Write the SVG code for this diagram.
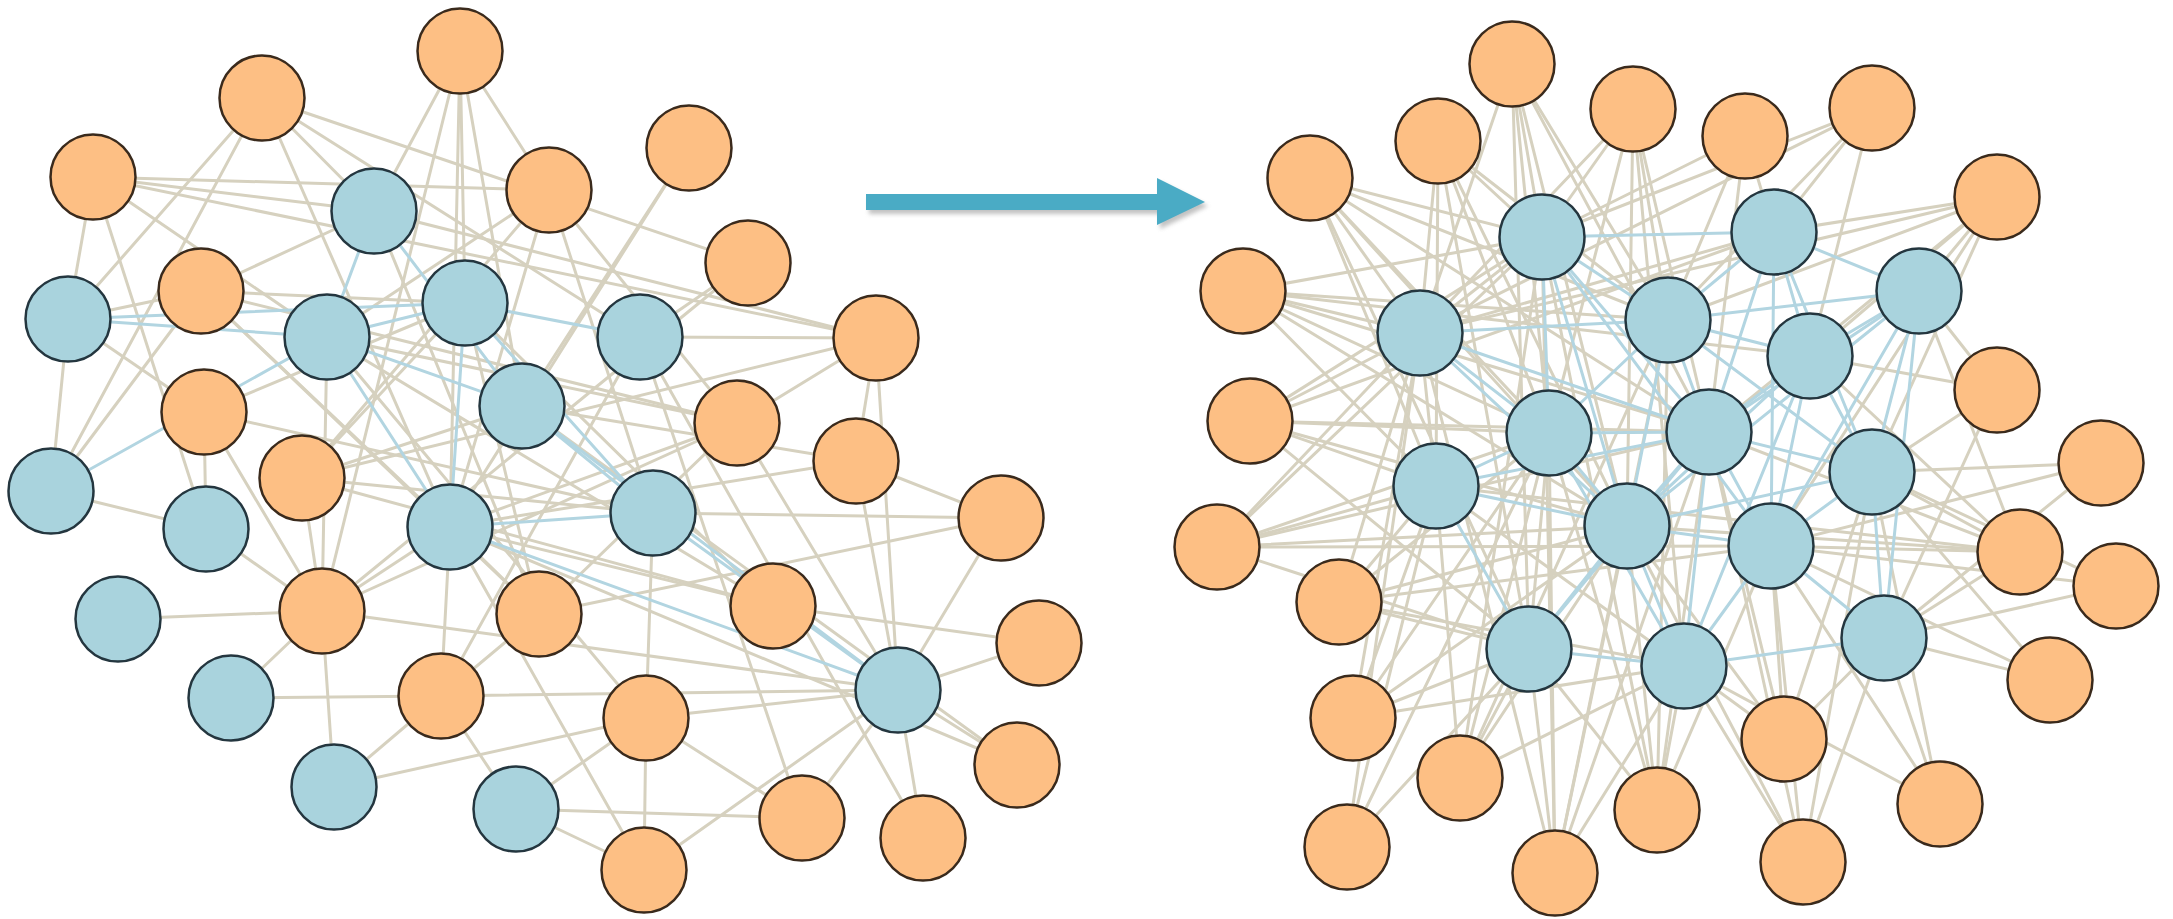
<svg xmlns="http://www.w3.org/2000/svg" width="2173" height="919" viewBox="0 0 2173 919">
<style>
.e line{stroke:#D6D1BF;stroke-width:3;stroke-linecap:round}
.eb line{stroke:#B2D5E1;stroke-width:3;stroke-linecap:round}
.o{fill:#FDBF84;stroke:#3A2A1C;stroke-width:2.5}
.b{fill:#A9D3DD;stroke:#24363F;stroke-width:2.5}
</style>
<defs>
<filter id="sh" x="-10%" y="-50%" width="120%" height="200%"><feGaussianBlur stdDeviation="2"/></filter>
<circle id="n" r="42.5"/>
</defs>
<rect width="2173" height="919" fill="#ffffff"/>
<g id="connectors">
<g class="e">
<line x1="460" y1="51" x2="374" y2="211"/><line x1="460" y1="51" x2="465" y2="303"/><line x1="460" y1="51" x2="450" y2="527"/><line x1="460" y1="51" x2="549" y2="190"/><line x1="460" y1="51" x2="522" y2="406"/>
<line x1="262" y1="98" x2="68" y2="319"/><line x1="262" y1="98" x2="51" y2="491"/><line x1="262" y1="98" x2="374" y2="211"/><line x1="262" y1="98" x2="450" y2="527"/><line x1="262" y1="98" x2="748" y2="263"/><line x1="262" y1="98" x2="640" y2="337"/>
<line x1="93" y1="177" x2="68" y2="319"/><line x1="93" y1="177" x2="374" y2="211"/><line x1="93" y1="177" x2="876" y2="338"/><line x1="93" y1="177" x2="206" y2="529"/><line x1="93" y1="177" x2="327" y2="337"/><line x1="93" y1="177" x2="549" y2="190"/>
<line x1="549" y1="190" x2="327" y2="337"/><line x1="549" y1="190" x2="653" y2="513"/><line x1="549" y1="190" x2="737" y2="423"/><line x1="549" y1="190" x2="450" y2="527"/><line x1="549" y1="190" x2="302" y2="478"/>
<line x1="689" y1="148" x2="522" y2="406"/><line x1="689" y1="148" x2="450" y2="527"/>
<line x1="748" y1="263" x2="640" y2="337"/><line x1="748" y1="263" x2="322" y2="611"/>
<line x1="201" y1="291" x2="68" y2="319"/><line x1="201" y1="291" x2="374" y2="211"/><line x1="201" y1="291" x2="465" y2="303"/><line x1="201" y1="291" x2="737" y2="423"/><line x1="201" y1="291" x2="51" y2="491"/><line x1="201" y1="291" x2="450" y2="527"/><line x1="201" y1="291" x2="539" y2="614"/>
<line x1="876" y1="338" x2="640" y2="337"/><line x1="876" y1="338" x2="737" y2="423"/><line x1="876" y1="338" x2="856" y2="461"/><line x1="876" y1="338" x2="898" y2="690"/><line x1="876" y1="338" x2="374" y2="211"/><line x1="876" y1="338" x2="302" y2="478"/>
<line x1="204" y1="412" x2="68" y2="319"/><line x1="204" y1="412" x2="465" y2="303"/><line x1="204" y1="412" x2="322" y2="611"/><line x1="204" y1="412" x2="653" y2="513"/><line x1="204" y1="412" x2="206" y2="529"/>
<line x1="737" y1="423" x2="450" y2="527"/><line x1="737" y1="423" x2="898" y2="690"/><line x1="737" y1="423" x2="327" y2="337"/><line x1="737" y1="423" x2="539" y2="614"/><line x1="737" y1="423" x2="322" y2="611"/>
<line x1="302" y1="478" x2="465" y2="303"/><line x1="302" y1="478" x2="522" y2="406"/><line x1="302" y1="478" x2="322" y2="611"/><line x1="302" y1="478" x2="653" y2="513"/><line x1="302" y1="478" x2="773" y2="606"/>
<line x1="856" y1="461" x2="898" y2="690"/><line x1="856" y1="461" x2="1001" y2="518"/><line x1="856" y1="461" x2="450" y2="527"/><line x1="856" y1="461" x2="522" y2="406"/>
<line x1="1001" y1="518" x2="653" y2="513"/><line x1="1001" y1="518" x2="898" y2="690"/>
<line x1="322" y1="611" x2="118" y2="619"/><line x1="322" y1="611" x2="231" y2="698"/><line x1="322" y1="611" x2="334" y2="787"/><line x1="322" y1="611" x2="206" y2="529"/><line x1="322" y1="611" x2="327" y2="337"/><line x1="322" y1="611" x2="450" y2="527"/><line x1="322" y1="611" x2="460" y2="51"/><line x1="322" y1="611" x2="898" y2="690"/>
<line x1="539" y1="614" x2="450" y2="527"/><line x1="539" y1="614" x2="441" y2="696"/><line x1="539" y1="614" x2="465" y2="303"/><line x1="539" y1="614" x2="374" y2="211"/><line x1="539" y1="614" x2="1001" y2="518"/>
<line x1="773" y1="606" x2="1039" y2="643"/><line x1="773" y1="606" x2="450" y2="527"/><line x1="773" y1="606" x2="465" y2="303"/><line x1="773" y1="606" x2="327" y2="337"/>
<line x1="1039" y1="643" x2="898" y2="690"/>
<line x1="441" y1="696" x2="231" y2="698"/><line x1="441" y1="696" x2="334" y2="787"/><line x1="441" y1="696" x2="516" y2="809"/><line x1="441" y1="696" x2="898" y2="690"/><line x1="441" y1="696" x2="640" y2="337"/><line x1="441" y1="696" x2="450" y2="527"/>
<line x1="646" y1="718" x2="898" y2="690"/><line x1="646" y1="718" x2="653" y2="513"/><line x1="646" y1="718" x2="644" y2="870"/><line x1="646" y1="718" x2="802" y2="818"/><line x1="646" y1="718" x2="334" y2="787"/><line x1="646" y1="718" x2="516" y2="809"/><line x1="646" y1="718" x2="327" y2="337"/>
<line x1="1017" y1="765" x2="898" y2="690"/><line x1="1017" y1="765" x2="522" y2="406"/><line x1="1017" y1="765" x2="450" y2="527"/>
<line x1="802" y1="818" x2="898" y2="690"/><line x1="802" y1="818" x2="516" y2="809"/><line x1="802" y1="818" x2="640" y2="337"/>
<line x1="923" y1="838" x2="898" y2="690"/><line x1="923" y1="838" x2="640" y2="337"/>
<line x1="644" y1="870" x2="898" y2="690"/><line x1="644" y1="870" x2="516" y2="809"/><line x1="644" y1="870" x2="450" y2="527"/>
<line x1="51" y1="491" x2="206" y2="529"/><line x1="51" y1="491" x2="68" y2="319"/>
<line x1="1512" y1="64" x2="1542" y2="237"/><line x1="1512" y1="64" x2="1668" y2="320"/><line x1="1512" y1="64" x2="1549" y2="433"/><line x1="1512" y1="64" x2="1627" y2="526"/><line x1="1512" y1="64" x2="1529" y2="649"/><line x1="1512" y1="64" x2="1709" y2="432"/><line x1="1512" y1="64" x2="1420" y2="333"/>
<line x1="1438" y1="141" x2="1542" y2="237"/><line x1="1438" y1="141" x2="1420" y2="333"/><line x1="1438" y1="141" x2="1549" y2="433"/><line x1="1438" y1="141" x2="1436" y2="486"/><line x1="1438" y1="141" x2="1529" y2="649"/><line x1="1438" y1="141" x2="1627" y2="526"/><line x1="1438" y1="141" x2="1668" y2="320"/>
<line x1="1633" y1="109" x2="1542" y2="237"/><line x1="1633" y1="109" x2="1668" y2="320"/><line x1="1633" y1="109" x2="1549" y2="433"/><line x1="1633" y1="109" x2="1420" y2="333"/><line x1="1633" y1="109" x2="1709" y2="432"/><line x1="1633" y1="109" x2="1627" y2="526"/><line x1="1633" y1="109" x2="1684" y2="666"/>
<line x1="1745" y1="136" x2="1774" y2="232"/><line x1="1745" y1="136" x2="1668" y2="320"/><line x1="1745" y1="136" x2="1709" y2="432"/><line x1="1745" y1="136" x2="1542" y2="237"/>
<line x1="1872" y1="108" x2="1774" y2="232"/><line x1="1872" y1="108" x2="1668" y2="320"/><line x1="1872" y1="108" x2="1542" y2="237"/><line x1="1872" y1="108" x2="1420" y2="333"/><line x1="1872" y1="108" x2="1810" y2="356"/>
<line x1="1310" y1="178" x2="1420" y2="333"/><line x1="1310" y1="178" x2="1542" y2="237"/><line x1="1310" y1="178" x2="1549" y2="433"/><line x1="1310" y1="178" x2="1436" y2="486"/><line x1="1310" y1="178" x2="1668" y2="320"/><line x1="1310" y1="178" x2="1627" y2="526"/><line x1="1310" y1="178" x2="1529" y2="649"/><line x1="1310" y1="178" x2="1709" y2="432"/>
<line x1="1997" y1="197" x2="1919" y2="291"/><line x1="1997" y1="197" x2="1774" y2="232"/><line x1="1997" y1="197" x2="1668" y2="320"/><line x1="1997" y1="197" x2="1810" y2="356"/><line x1="1997" y1="197" x2="1709" y2="432"/><line x1="1997" y1="197" x2="1872" y2="472"/><line x1="1997" y1="197" x2="1420" y2="333"/><line x1="1997" y1="197" x2="1771" y2="546"/>
<line x1="1243" y1="291" x2="1420" y2="333"/><line x1="1243" y1="291" x2="1542" y2="237"/><line x1="1243" y1="291" x2="1549" y2="433"/><line x1="1243" y1="291" x2="1436" y2="486"/><line x1="1243" y1="291" x2="1668" y2="320"/><line x1="1243" y1="291" x2="1709" y2="432"/><line x1="1243" y1="291" x2="1627" y2="526"/><line x1="1243" y1="291" x2="1810" y2="356"/>
<line x1="1997" y1="390" x2="1919" y2="291"/><line x1="1997" y1="390" x2="1872" y2="472"/><line x1="1997" y1="390" x2="1884" y2="638"/><line x1="1997" y1="390" x2="1810" y2="356"/>
<line x1="1250" y1="421" x2="1420" y2="333"/><line x1="1250" y1="421" x2="1436" y2="486"/><line x1="1250" y1="421" x2="1549" y2="433"/><line x1="1250" y1="421" x2="1542" y2="237"/><line x1="1250" y1="421" x2="1627" y2="526"/><line x1="1250" y1="421" x2="1709" y2="432"/><line x1="1250" y1="421" x2="1774" y2="232"/><line x1="1250" y1="421" x2="1529" y2="649"/>
<line x1="2101" y1="463" x2="1872" y2="472"/><line x1="2101" y1="463" x2="1771" y2="546"/><line x1="2101" y1="463" x2="1884" y2="638"/>
<line x1="1217" y1="547" x2="1436" y2="486"/><line x1="1217" y1="547" x2="1420" y2="333"/><line x1="1217" y1="547" x2="1549" y2="433"/><line x1="1217" y1="547" x2="1627" y2="526"/><line x1="1217" y1="547" x2="1529" y2="649"/><line x1="1217" y1="547" x2="1771" y2="546"/><line x1="1217" y1="547" x2="1709" y2="432"/><line x1="1217" y1="547" x2="1542" y2="237"/>
<line x1="2020" y1="552" x2="1872" y2="472"/><line x1="2020" y1="552" x2="1771" y2="546"/><line x1="2020" y1="552" x2="1884" y2="638"/><line x1="2020" y1="552" x2="1810" y2="356"/><line x1="2020" y1="552" x2="1919" y2="291"/><line x1="2020" y1="552" x2="1709" y2="432"/><line x1="2020" y1="552" x2="1627" y2="526"/><line x1="2020" y1="552" x2="1436" y2="486"/>
<line x1="2116" y1="586" x2="1884" y2="638"/><line x1="2116" y1="586" x2="1771" y2="546"/><line x1="2116" y1="586" x2="1872" y2="472"/>
<line x1="1339" y1="602" x2="1436" y2="486"/><line x1="1339" y1="602" x2="1529" y2="649"/><line x1="1339" y1="602" x2="1549" y2="433"/><line x1="1339" y1="602" x2="1627" y2="526"/><line x1="1339" y1="602" x2="1684" y2="666"/><line x1="1339" y1="602" x2="1771" y2="546"/><line x1="1339" y1="602" x2="1420" y2="333"/>
<line x1="2050" y1="680" x2="1884" y2="638"/><line x1="2050" y1="680" x2="1872" y2="472"/><line x1="2050" y1="680" x2="1771" y2="546"/>
<line x1="1353" y1="718" x2="1529" y2="649"/><line x1="1353" y1="718" x2="1436" y2="486"/><line x1="1353" y1="718" x2="1549" y2="433"/><line x1="1353" y1="718" x2="1627" y2="526"/><line x1="1353" y1="718" x2="1684" y2="666"/><line x1="1353" y1="718" x2="1420" y2="333"/>
<line x1="1784" y1="739" x2="1884" y2="638"/><line x1="1784" y1="739" x2="1684" y2="666"/><line x1="1784" y1="739" x2="1771" y2="546"/><line x1="1784" y1="739" x2="1627" y2="526"/><line x1="1784" y1="739" x2="1872" y2="472"/><line x1="1784" y1="739" x2="1709" y2="432"/>
<line x1="1460" y1="778" x2="1529" y2="649"/><line x1="1460" y1="778" x2="1549" y2="433"/><line x1="1460" y1="778" x2="1627" y2="526"/><line x1="1460" y1="778" x2="1684" y2="666"/><line x1="1460" y1="778" x2="1436" y2="486"/><line x1="1460" y1="778" x2="1542" y2="237"/><line x1="1460" y1="778" x2="1668" y2="320"/>
<line x1="1657" y1="810" x2="1684" y2="666"/><line x1="1657" y1="810" x2="1529" y2="649"/><line x1="1657" y1="810" x2="1627" y2="526"/><line x1="1657" y1="810" x2="1549" y2="433"/><line x1="1657" y1="810" x2="1709" y2="432"/><line x1="1657" y1="810" x2="1542" y2="237"/><line x1="1657" y1="810" x2="1668" y2="320"/><line x1="1657" y1="810" x2="1771" y2="546"/>
<line x1="1940" y1="804" x2="1884" y2="638"/><line x1="1940" y1="804" x2="1872" y2="472"/><line x1="1940" y1="804" x2="1771" y2="546"/><line x1="1940" y1="804" x2="1684" y2="666"/>
<line x1="1347" y1="847" x2="1529" y2="649"/><line x1="1347" y1="847" x2="1436" y2="486"/><line x1="1347" y1="847" x2="1420" y2="333"/><line x1="1347" y1="847" x2="1549" y2="433"/>
<line x1="1555" y1="873" x2="1529" y2="649"/><line x1="1555" y1="873" x2="1684" y2="666"/><line x1="1555" y1="873" x2="1549" y2="433"/><line x1="1555" y1="873" x2="1542" y2="237"/><line x1="1555" y1="873" x2="1627" y2="526"/><line x1="1555" y1="873" x2="1709" y2="432"/><line x1="1555" y1="873" x2="1668" y2="320"/><line x1="1555" y1="873" x2="1420" y2="333"/>
<line x1="1803" y1="862" x2="1884" y2="638"/><line x1="1803" y1="862" x2="1684" y2="666"/><line x1="1803" y1="862" x2="1771" y2="546"/><line x1="1803" y1="862" x2="1627" y2="526"/><line x1="1803" y1="862" x2="1709" y2="432"/><line x1="1803" y1="862" x2="1872" y2="472"/>
<line x1="1420" y1="333" x2="1436" y2="486"/><line x1="1542" y1="237" x2="1420" y2="333"/><line x1="1436" y1="486" x2="1684" y2="666"/><line x1="1529" y1="649" x2="1549" y2="433"/><line x1="1774" y1="232" x2="1420" y2="333"/>
</g>
<g class="eb">
<line x1="68" y1="319" x2="327" y2="337"/><line x1="68" y1="319" x2="465" y2="303"/><line x1="327" y1="337" x2="465" y2="303"/><line x1="374" y1="211" x2="327" y2="337"/><line x1="465" y1="303" x2="450" y2="527"/><line x1="327" y1="337" x2="522" y2="406"/><line x1="522" y1="406" x2="653" y2="513"/><line x1="450" y1="527" x2="653" y2="513"/><line x1="653" y1="513" x2="898" y2="690"/><line x1="465" y1="303" x2="640" y2="337"/><line x1="51" y1="491" x2="327" y2="337"/><line x1="374" y1="211" x2="522" y2="406"/><line x1="327" y1="337" x2="450" y2="527"/><line x1="465" y1="303" x2="653" y2="513"/><line x1="522" y1="406" x2="898" y2="690"/><line x1="450" y1="527" x2="898" y2="690"/>
<line x1="1542" y1="237" x2="1774" y2="232"/><line x1="1542" y1="237" x2="1668" y2="320"/><line x1="1542" y1="237" x2="1549" y2="433"/><line x1="1542" y1="237" x2="1709" y2="432"/><line x1="1542" y1="237" x2="1627" y2="526"/>
<line x1="1774" y1="232" x2="1919" y2="291"/><line x1="1774" y1="232" x2="1668" y2="320"/><line x1="1774" y1="232" x2="1810" y2="356"/><line x1="1774" y1="232" x2="1709" y2="432"/><line x1="1774" y1="232" x2="1872" y2="472"/><line x1="1774" y1="232" x2="1771" y2="546"/>
<line x1="1919" y1="291" x2="1668" y2="320"/><line x1="1919" y1="291" x2="1810" y2="356"/><line x1="1919" y1="291" x2="1709" y2="432"/><line x1="1919" y1="291" x2="1872" y2="472"/><line x1="1919" y1="291" x2="1771" y2="546"/><line x1="1919" y1="291" x2="1627" y2="526"/><line x1="1919" y1="291" x2="1884" y2="638"/>
<line x1="1420" y1="333" x2="1668" y2="320"/><line x1="1420" y1="333" x2="1549" y2="433"/><line x1="1420" y1="333" x2="1709" y2="432"/><line x1="1420" y1="333" x2="1627" y2="526"/>
<line x1="1668" y1="320" x2="1810" y2="356"/><line x1="1668" y1="320" x2="1549" y2="433"/><line x1="1668" y1="320" x2="1709" y2="432"/><line x1="1668" y1="320" x2="1872" y2="472"/><line x1="1668" y1="320" x2="1627" y2="526"/>
<line x1="1810" y1="356" x2="1709" y2="432"/><line x1="1810" y1="356" x2="1872" y2="472"/><line x1="1810" y1="356" x2="1627" y2="526"/><line x1="1810" y1="356" x2="1771" y2="546"/><line x1="1810" y1="356" x2="1684" y2="666"/>
<line x1="1549" y1="433" x2="1709" y2="432"/><line x1="1549" y1="433" x2="1436" y2="486"/><line x1="1549" y1="433" x2="1627" y2="526"/><line x1="1549" y1="433" x2="1684" y2="666"/>
<line x1="1709" y1="432" x2="1872" y2="472"/><line x1="1709" y1="432" x2="1627" y2="526"/><line x1="1709" y1="432" x2="1771" y2="546"/><line x1="1709" y1="432" x2="1684" y2="666"/><line x1="1709" y1="432" x2="1436" y2="486"/><line x1="1709" y1="432" x2="1529" y2="649"/>
<line x1="1872" y1="472" x2="1627" y2="526"/><line x1="1872" y1="472" x2="1771" y2="546"/><line x1="1872" y1="472" x2="1884" y2="638"/>
<line x1="1436" y1="486" x2="1627" y2="526"/><line x1="1436" y1="486" x2="1529" y2="649"/>
<line x1="1627" y1="526" x2="1771" y2="546"/><line x1="1627" y1="526" x2="1529" y2="649"/><line x1="1627" y1="526" x2="1684" y2="666"/>
<line x1="1771" y1="546" x2="1684" y2="666"/><line x1="1771" y1="546" x2="1884" y2="638"/><line x1="1529" y1="649" x2="1684" y2="666"/><line x1="1684" y1="666" x2="1884" y2="638"/><line x1="1542" y1="237" x2="1771" y2="546"/>
</g>
</g>
<g id="arrow">
<polygon points="869,198 1160,198 1160,182 1208,206 1160,229 1160,214 869,214" fill="#9a9a9a" opacity="0.6" filter="url(#sh)"/>
<polygon points="866,194 1157,194 1157,178 1205,202 1157,225 1157,210 866,210" fill="#4AABC5"/>
</g>
<g id="left-graph">
<g id="L-o1"><use href="#n" x="460" y="51" class="o"/></g>
<g id="L-o2"><use href="#n" x="262" y="98" class="o"/></g>
<g id="L-o3"><use href="#n" x="93" y="177" class="o"/></g>
<g id="L-o4"><use href="#n" x="549" y="190" class="o"/></g>
<g id="L-o5"><use href="#n" x="689" y="148" class="o"/></g>
<g id="L-o6"><use href="#n" x="748" y="263" class="o"/></g>
<g id="L-o7"><use href="#n" x="201" y="291" class="o"/></g>
<g id="L-o8"><use href="#n" x="876" y="338" class="o"/></g>
<g id="L-o9"><use href="#n" x="204" y="412" class="o"/></g>
<g id="L-o10"><use href="#n" x="737" y="423" class="o"/></g>
<g id="L-o11"><use href="#n" x="302" y="478" class="o"/></g>
<g id="L-o12"><use href="#n" x="856" y="461" class="o"/></g>
<g id="L-o13"><use href="#n" x="1001" y="518" class="o"/></g>
<g id="L-o14"><use href="#n" x="322" y="611" class="o"/></g>
<g id="L-o15"><use href="#n" x="539" y="614" class="o"/></g>
<g id="L-o16"><use href="#n" x="773" y="606" class="o"/></g>
<g id="L-o17"><use href="#n" x="1039" y="643" class="o"/></g>
<g id="L-o18"><use href="#n" x="441" y="696" class="o"/></g>
<g id="L-o19"><use href="#n" x="646" y="718" class="o"/></g>
<g id="L-o20"><use href="#n" x="1017" y="765" class="o"/></g>
<g id="L-o21"><use href="#n" x="802" y="818" class="o"/></g>
<g id="L-o22"><use href="#n" x="923" y="838" class="o"/></g>
<g id="L-o23"><use href="#n" x="644" y="870" class="o"/></g>
<g id="L-b1"><use href="#n" x="374" y="211" class="b"/></g>
<g id="L-b2"><use href="#n" x="68" y="319" class="b"/></g>
<g id="L-b3"><use href="#n" x="327" y="337" class="b"/></g>
<g id="L-b4"><use href="#n" x="465" y="303" class="b"/></g>
<g id="L-b5"><use href="#n" x="640" y="337" class="b"/></g>
<g id="L-b6"><use href="#n" x="522" y="406" class="b"/></g>
<g id="L-b7"><use href="#n" x="51" y="491" class="b"/></g>
<g id="L-b8"><use href="#n" x="206" y="529" class="b"/></g>
<g id="L-b9"><use href="#n" x="450" y="527" class="b"/></g>
<g id="L-b10"><use href="#n" x="653" y="513" class="b"/></g>
<g id="L-b11"><use href="#n" x="118" y="619" class="b"/></g>
<g id="L-b12"><use href="#n" x="231" y="698" class="b"/></g>
<g id="L-b13"><use href="#n" x="898" y="690" class="b"/></g>
<g id="L-b14"><use href="#n" x="334" y="787" class="b"/></g>
<g id="L-b15"><use href="#n" x="516" y="809" class="b"/></g>
</g>
<g id="right-graph">
<g id="R-o1"><use href="#n" x="1512" y="64" class="o"/></g>
<g id="R-o2"><use href="#n" x="1438" y="141" class="o"/></g>
<g id="R-o3"><use href="#n" x="1633" y="109" class="o"/></g>
<g id="R-o4"><use href="#n" x="1745" y="136" class="o"/></g>
<g id="R-o5"><use href="#n" x="1872" y="108" class="o"/></g>
<g id="R-o6"><use href="#n" x="1310" y="178" class="o"/></g>
<g id="R-o7"><use href="#n" x="1997" y="197" class="o"/></g>
<g id="R-o8"><use href="#n" x="1243" y="291" class="o"/></g>
<g id="R-o9"><use href="#n" x="1997" y="390" class="o"/></g>
<g id="R-o10"><use href="#n" x="1250" y="421" class="o"/></g>
<g id="R-o11"><use href="#n" x="2101" y="463" class="o"/></g>
<g id="R-o12"><use href="#n" x="1217" y="547" class="o"/></g>
<g id="R-o13"><use href="#n" x="2020" y="552" class="o"/></g>
<g id="R-o14"><use href="#n" x="2116" y="586" class="o"/></g>
<g id="R-o15"><use href="#n" x="1339" y="602" class="o"/></g>
<g id="R-o16"><use href="#n" x="2050" y="680" class="o"/></g>
<g id="R-o17"><use href="#n" x="1353" y="718" class="o"/></g>
<g id="R-o18"><use href="#n" x="1784" y="739" class="o"/></g>
<g id="R-o19"><use href="#n" x="1460" y="778" class="o"/></g>
<g id="R-o20"><use href="#n" x="1657" y="810" class="o"/></g>
<g id="R-o21"><use href="#n" x="1940" y="804" class="o"/></g>
<g id="R-o22"><use href="#n" x="1347" y="847" class="o"/></g>
<g id="R-o23"><use href="#n" x="1555" y="873" class="o"/></g>
<g id="R-o24"><use href="#n" x="1803" y="862" class="o"/></g>
<g id="R-b1"><use href="#n" x="1542" y="237" class="b"/></g>
<g id="R-b2"><use href="#n" x="1774" y="232" class="b"/></g>
<g id="R-b3"><use href="#n" x="1919" y="291" class="b"/></g>
<g id="R-b4"><use href="#n" x="1420" y="333" class="b"/></g>
<g id="R-b5"><use href="#n" x="1668" y="320" class="b"/></g>
<g id="R-b6"><use href="#n" x="1810" y="356" class="b"/></g>
<g id="R-b7"><use href="#n" x="1549" y="433" class="b"/></g>
<g id="R-b8"><use href="#n" x="1709" y="432" class="b"/></g>
<g id="R-b9"><use href="#n" x="1872" y="472" class="b"/></g>
<g id="R-b10"><use href="#n" x="1436" y="486" class="b"/></g>
<g id="R-b11"><use href="#n" x="1627" y="526" class="b"/></g>
<g id="R-b12"><use href="#n" x="1771" y="546" class="b"/></g>
<g id="R-b13"><use href="#n" x="1529" y="649" class="b"/></g>
<g id="R-b14"><use href="#n" x="1684" y="666" class="b"/></g>
<g id="R-b15"><use href="#n" x="1884" y="638" class="b"/></g>
</g>
</svg>
